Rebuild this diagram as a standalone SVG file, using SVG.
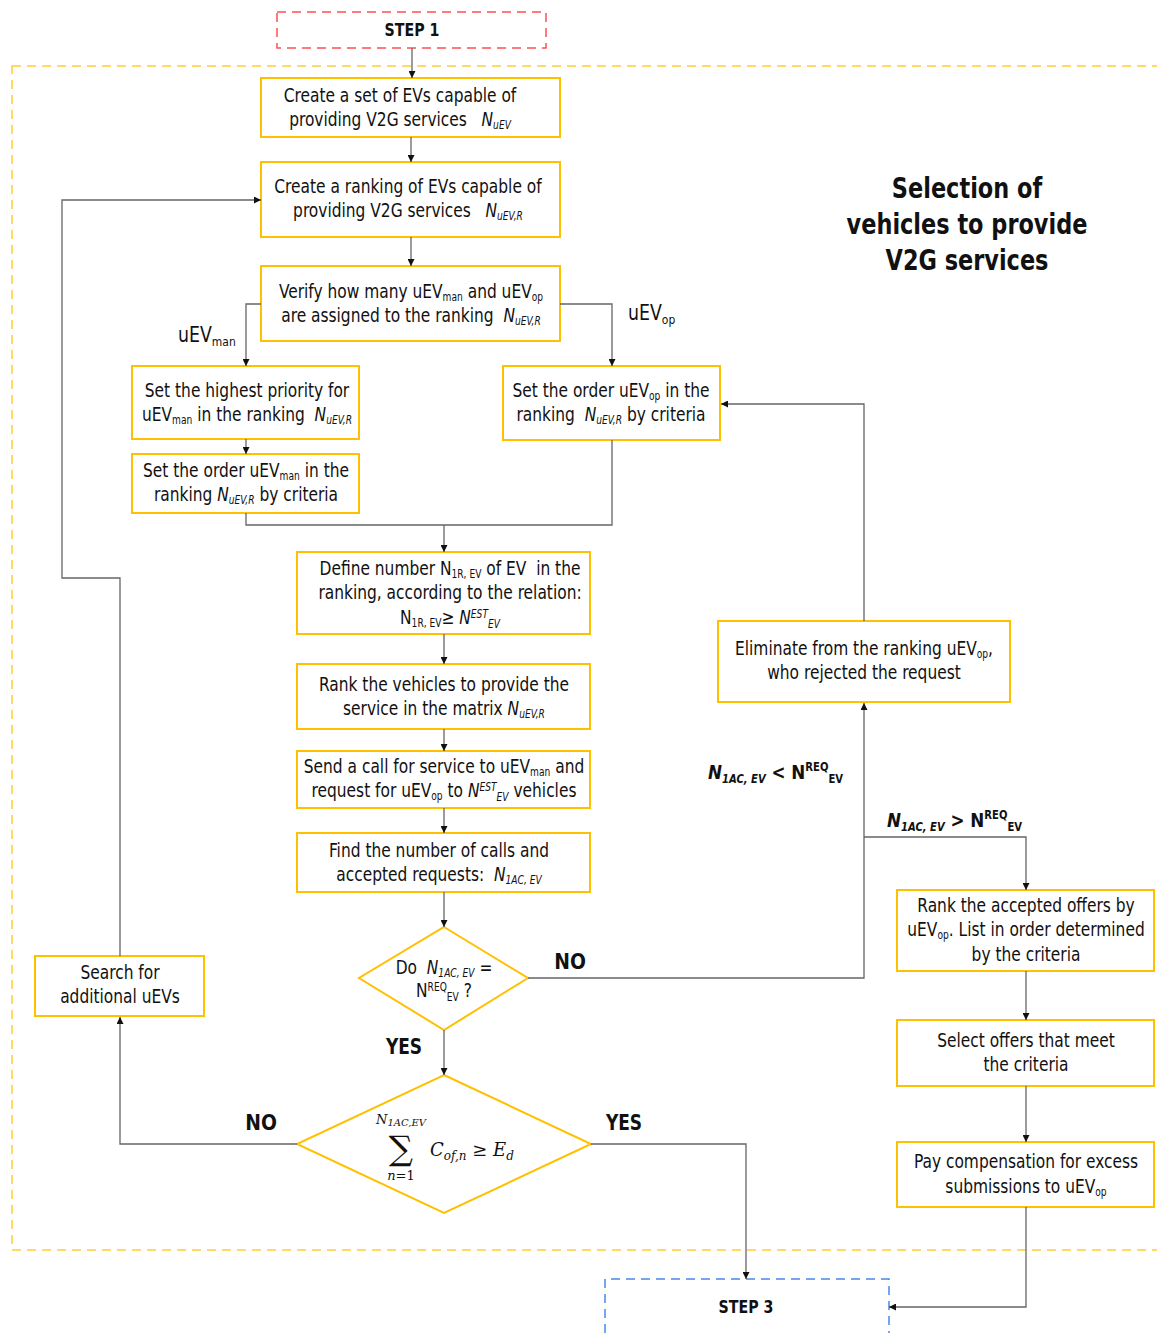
<svg xmlns="http://www.w3.org/2000/svg" width="1157" height="1333" viewBox="0 0 1157 1333">
<style>
.box{fill:#fff;stroke:#FFC000;stroke-width:2}
.t{font-family:"DejaVu Sans Condensed","Liberation Sans Narrow",sans-serif;font-size:19.5px;fill:#111;text-anchor:middle}
.s{font-size:11.5px}
.i{font-style:italic}
.c{fill:none;stroke:#666;stroke-width:1.3}
.a{marker-end:url(#ah)}
.lbl{font-family:"DejaVu Sans Condensed","Liberation Sans Narrow",sans-serif;font-size:21px;fill:#111}
.b{font-family:"DejaVu Sans Condensed","Liberation Sans Narrow",sans-serif;font-weight:bold;fill:#111}
.m{font-family:"DejaVu Serif","Liberation Serif",serif;font-style:italic;fill:#111}
</style>
<defs>
<marker id="ah" viewBox="0 0 10 10" refX="10" refY="5" markerWidth="7" markerHeight="7" markerUnits="userSpaceOnUse" orient="auto">
<path d="M0,0 L10,5 L0,10 z" fill="#111"/>
</marker>
</defs>
<rect x="12" y="66" width="1160" height="1184" fill="none" stroke="#FFC000" stroke-width="1.5" stroke-dasharray="9,6" opacity="0.8"/>
<g id="step1">
<rect x="277" y="12" width="269" height="36" fill="none" stroke="#FF5050" stroke-width="1.5" stroke-dasharray="9,6"/>
<text class="b" font-size="17" text-anchor="middle" transform="translate(412 36) scale(0.93 1)">STEP 1</text>
</g>
<g id="title">
<text class="b" font-size="29" text-anchor="middle" transform="translate(967 0) scale(0.86 1)"><tspan x="0" y="198">Selection of</tspan><tspan x="0" y="234">vehicles to provide</tspan><tspan x="0" y="270">V2G services</tspan></text>
</g>
<g id="n1">
<rect class="box" x="261" y="78" width="299" height="59"/>
<text class="t" transform="translate(400 0) scale(0.88 1)"><tspan x="0" y="102">Create a set of EVs capable of</tspan><tspan x="0" y="126">providing V2G services &#160; <tspan class="i">N</tspan><tspan class="s i" dy="3">uEV</tspan></tspan></text>
</g>
<g id="n2">
<rect class="box" x="261" y="162" width="299" height="75"/>
<text class="t" transform="translate(408 0) scale(0.88 1)"><tspan x="0" y="193">Create a ranking of EVs capable of</tspan><tspan x="0" y="217">providing V2G services &#160; <tspan class="i">N</tspan><tspan class="s i" dy="3">uEV,R</tspan></tspan></text>
</g>
<g id="n3">
<rect class="box" x="261" y="266" width="299" height="75"/>
<text class="t" transform="translate(411 0) scale(0.88 1)"><tspan x="0" y="298">Verify how many uEV<tspan class="s" dy="3">man</tspan><tspan dy="-3"> and uEV</tspan><tspan class="s" dy="3">op</tspan></tspan><tspan x="0" y="322">are assigned to the ranking &#160;<tspan class="i">N</tspan><tspan class="s i" dy="3">uEV,R</tspan></tspan></text>
</g>
<g id="n4">
<rect class="box" x="132" y="366" width="227" height="73"/>
<text class="t" transform="translate(247 0) scale(0.88 1)"><tspan x="0" y="397">Set the highest priority for</tspan><tspan x="0" y="421">uEV<tspan class="s" dy="3">man</tspan><tspan dy="-3"> in the ranking &#160;</tspan><tspan class="i">N</tspan><tspan class="s i" dy="3">uEV,R</tspan></tspan></text>
</g>
<g id="n5">
<rect class="box" x="132" y="454" width="227" height="59"/>
<text class="t" transform="translate(246 0) scale(0.88 1)"><tspan x="0" y="477">Set the order uEV<tspan class="s" dy="3">man</tspan><tspan dy="-3"> in the</tspan></tspan><tspan x="0" y="501">ranking <tspan class="i">N</tspan><tspan class="s i" dy="3">uEV,R</tspan><tspan dy="-3"> by criteria</tspan></tspan></text>
</g>
<g id="n6">
<rect class="box" x="503" y="366" width="217" height="74"/>
<text class="t" transform="translate(611 0) scale(0.88 1)"><tspan x="0" y="397">Set the order uEV<tspan class="s" dy="3">op</tspan><tspan dy="-3"> in the</tspan></tspan><tspan x="0" y="421">ranking &#160;<tspan class="i">N</tspan><tspan class="s i" dy="3">uEV,R</tspan><tspan dy="-3"> by criteria</tspan></tspan></text>
</g>
<g id="n7">
<rect class="box" x="297" y="552" width="293" height="82"/>
<text class="t" transform="translate(450 0) scale(0.88 1)"><tspan x="0" y="575">Define number N<tspan class="s" dy="3">1R, EV</tspan><tspan dy="-3"> of EV &#160;in the</tspan></tspan><tspan x="0" y="599">ranking, according to the relation:</tspan><tspan x="0" y="624">N<tspan class="s" dy="3">1R, EV</tspan><tspan dy="-3">≥ </tspan><tspan class="i">N</tspan><tspan class="s i" dy="-6">EST</tspan><tspan class="s i" dy="10">EV</tspan></tspan></text>
</g>
<g id="n8">
<rect class="box" x="297" y="664" width="293" height="65"/>
<text class="t" transform="translate(444 0) scale(0.88 1)"><tspan x="0" y="691">Rank the vehicles to provide the</tspan><tspan x="0" y="715">service in the matrix <tspan class="i">N</tspan><tspan class="s i" dy="3">uEV,R</tspan></tspan></text>
</g>
<g id="n9">
<rect class="box" x="297" y="751" width="293" height="57"/>
<text class="t" transform="translate(444 0) scale(0.88 1)"><tspan x="0" y="773">Send a call for service to uEV<tspan class="s" dy="3">man</tspan><tspan dy="-3"> and</tspan></tspan><tspan x="0" y="797">request for uEV<tspan class="s" dy="3">op</tspan><tspan dy="-3"> to </tspan><tspan class="i">N</tspan><tspan class="s i" dy="-6">EST</tspan><tspan class="s i" dy="10">EV</tspan><tspan dy="-4"> vehicles</tspan></tspan></text>
</g>
<g id="n10">
<rect class="box" x="297" y="833" width="293" height="59"/>
<text class="t" transform="translate(439 0) scale(0.88 1)"><tspan x="0" y="857">Find the number of calls and</tspan><tspan x="0" y="881">accepted requests: &#160;<tspan class="i">N</tspan><tspan class="s i" dy="3">1AC, EV</tspan></tspan></text>
</g>
<g id="d1">
<polygon class="box" points="444,927 528,978 444,1030 359,978"/>
<text class="t" transform="translate(444 0) scale(0.88 1)"><tspan x="0" y="974">Do &#160;<tspan class="i">N</tspan><tspan class="s i" dy="3">1AC, EV</tspan><tspan dy="-3"> =</tspan></tspan><tspan x="0" y="997">N<tspan class="s" dy="-6">REQ</tspan><tspan class="s" dy="10">EV</tspan><tspan dy="-4"> ?</tspan></tspan></text>
</g>
<g id="d2">
<polygon class="box" points="444,1075 591,1144 444,1213 297,1144"/>
<text class="m" x="401" y="1124" font-size="13" text-anchor="middle">N<tspan font-size="10" dy="2">1AC,EV</tspan></text>
<text x="401" y="1160" font-family="DejaVu Serif,Liberation Serif,serif" font-size="34" text-anchor="middle" fill="#111">∑</text>
<text class="m" x="401" y="1180" font-size="13" text-anchor="middle">n<tspan font-style="normal">=1</tspan></text>
<text class="m" x="430" y="1156" font-size="18">C<tspan font-size="12" dy="4">of,n</tspan><tspan dy="-4" font-style="normal"> ≥ </tspan>E<tspan font-size="12" dy="4">d</tspan></text>
</g>
<g id="n11">
<rect class="box" x="718" y="621" width="292" height="81"/>
<text class="t" transform="translate(864 0) scale(0.88 1)"><tspan x="0" y="655">Eliminate from the ranking uEV<tspan class="s" dy="3">op</tspan><tspan dy="-3">,</tspan></tspan><tspan x="0" y="679">who rejected the request</tspan></text>
</g>
<g id="n12">
<rect class="box" x="897" y="890" width="257" height="81"/>
<text class="t" transform="translate(1026 0) scale(0.88 1)"><tspan x="0" y="912">Rank the accepted offers by</tspan><tspan x="0" y="936">uEV<tspan class="s" dy="3">op</tspan><tspan dy="-3">. List in order determined</tspan></tspan><tspan x="0" y="961">by the criteria</tspan></text>
</g>
<g id="n13">
<rect class="box" x="897" y="1020" width="257" height="66"/>
<text class="t" transform="translate(1026 0) scale(0.88 1)"><tspan x="0" y="1047">Select offers that meet</tspan><tspan x="0" y="1071">the criteria</tspan></text>
</g>
<g id="n14">
<rect class="box" x="897" y="1142" width="257" height="65"/>
<text class="t" transform="translate(1026 0) scale(0.88 1)"><tspan x="0" y="1168">Pay compensation for excess</tspan><tspan x="0" y="1193">submissions to uEV<tspan class="s" dy="3">op</tspan></tspan></text>
</g>
<g id="n15">
<rect class="box" x="35" y="956" width="169" height="60"/>
<text class="t" transform="translate(120 0) scale(0.88 1)"><tspan x="0" y="979">Search for</tspan><tspan x="0" y="1003">additional uEVs</tspan></text>
</g>
<g id="step3">
<path d="M605,1333 V1279 H889 V1333" fill="none" stroke="#4A86E8" stroke-width="1.5" stroke-dasharray="9,6"/>
<text class="b" font-size="17" text-anchor="middle" transform="translate(746 1313) scale(0.93 1)">STEP 3</text>
</g>
<g id="labels">
<text class="lbl" transform="translate(178 342) scale(0.92 1)">uEV<tspan font-size="13" dy="4">man</tspan></text>
<text class="lbl" transform="translate(628 320) scale(0.92 1)">uEV<tspan font-size="13" dy="4">op</tspan></text>
<text class="b" font-size="20" transform="translate(708 779) scale(0.93 1)"><tspan font-style="italic">N</tspan><tspan font-size="12" font-style="italic" dy="4">1AC, EV</tspan><tspan dy="-4"> &lt; N</tspan><tspan font-size="12" dy="-8">REQ</tspan><tspan font-size="12" dy="12">EV</tspan></text>
<text class="b" font-size="20" transform="translate(887 827) scale(0.93 1)"><tspan font-style="italic">N</tspan><tspan font-size="12" font-style="italic" dy="4">1AC, EV</tspan><tspan dy="-4"> &gt; N</tspan><tspan font-size="12" dy="-8">REQ</tspan><tspan font-size="12" dy="12">EV</tspan></text>
<text class="b" font-size="22" text-anchor="middle" transform="translate(570 969) scale(0.95 1)">NO</text>
<text class="b" font-size="22" text-anchor="middle" transform="translate(404 1054) scale(0.86 1)">YES</text>
<text class="b" font-size="22" text-anchor="middle" transform="translate(261 1130) scale(0.95 1)">NO</text>
<text class="b" font-size="22" text-anchor="middle" transform="translate(624 1130) scale(0.86 1)">YES</text>
</g>
<g id="connectors">
<path class="c a" d="M412,48 V78"/>
<path class="c a" d="M411,137 V162"/>
<path class="c a" d="M411,237 V266"/>
<path class="c a" d="M261,304 H246 V366"/>
<path class="c a" d="M560,304 H612 V366"/>
<path class="c a" d="M246,439 V454"/>
<path class="c" d="M246,513 V525 H612 V440"/>
<path class="c a" d="M444,525 V552"/>
<path class="c a" d="M444,634 V664"/>
<path class="c a" d="M444,729 V751"/>
<path class="c a" d="M444,808 V833"/>
<path class="c a" d="M444,892 V927"/>
<path class="c a" d="M528,978 H864 V703"/>
<path class="c a" d="M864,621 V404 H721"/>
<path class="c a" d="M864,837 H1026 V890"/>
<path class="c a" d="M1026,971 V1020"/>
<path class="c a" d="M1026,1086 V1142"/>
<path class="c a" d="M1026,1207 V1307 H889"/>
<path class="c a" d="M444,1030 V1075"/>
<path class="c a" d="M297,1144 H120 V1017"/>
<path class="c a" d="M120,956 V578 H62 V200 H261"/>
<path class="c a" d="M591,1144 H746 V1279"/>
</g>
</svg>
